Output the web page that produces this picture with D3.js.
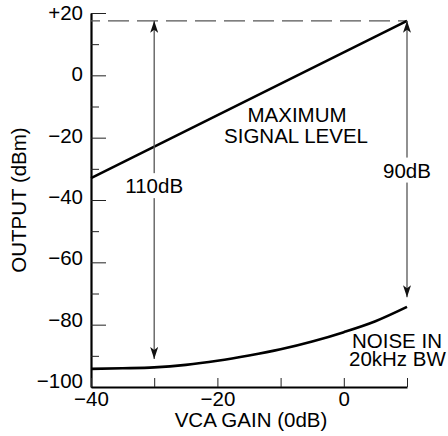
<!DOCTYPE html>
<html>
<head>
<meta charset="utf-8">
<script src="https://cdn.jsdelivr.net/npm/d3@7"></script>
<style>
  body { margin: 0; background: #fff; }
  svg { display: block; }
  text { font-family: "Liberation Sans", Arial, sans-serif; fill: #000; }
</style>
</head>
<body>
<div id="svg-container"></div>
<script>
// data
const gain = [-40, -35, -30, -25, -20, -15, -10, -5, 0, 5, 10];
const noise = [-94.2, -94.0, -93.7, -92.9, -91.6, -89.9, -87.9, -85.4, -82.4, -78.9, -74.3];
const maxGain = [-40, 10];
const maxSignal = [-33, 17.5];
const yMajor = [20, 0, -20, -40, -60, -80, -100];
const yMinor = [10, -10, -30, -50, -70, -90];
const xTicks = [-40, -30, -20, -10, 0, 10];
const xLabels = [-40, -20, 0];
const arrows = [
  { x: -30, top: 17.5, bottom: -91, label: "110dB", labelY: -35.5 },
  { x: 10, top: 17.5, bottom: -71.2, label: "90dB", labelY: -30.5 }
];

const width = 448, height = 436;
const svg = d3.select("#svg-container").append("svg")
  .attr("width", width).attr("height", height);

// scales
const xScale = d3.scaleLinear().domain([-40, 10]).range([91, 407]);
const yScale = d3.scaleLinear().domain([-100, 20]).range([387, 13]);
const fmt = (d) => (d > 0 ? "+" + d : d < 0 ? "\u2212" + Math.abs(d) : "0");
const FS = 20.5;

// y axis
const yAxis = d3.axisLeft(yScale).tickValues(yMajor).tickSize(-15).tickSizeOuter(0)
  .tickPadding(8).tickFormat(fmt);
const gy = svg.append("g").attr("transform", `translate(${xScale(-40)},0)`).call(yAxis);
// labels in the original sit a little higher toward the bottom
gy.selectAll(".tick text").attr("y", (d) => -(20 - d) / 120 * 6);
svg.append("g").attr("transform", `translate(${xScale(-40)},0)`)
  .call(d3.axisLeft(yScale).tickValues(yMinor).tickSize(-8).tickSizeOuter(0).tickFormat(""))
  .select(".domain").remove();

// x axis
const xAxis = d3.axisBottom(xScale).tickValues(xTicks).tickSize(-9).tickSizeOuter(0)
  .tickPadding(4).tickFormat((d) => (xLabels.includes(d) ? fmt(d) : ""));
const gx = svg.append("g").attr("transform", `translate(0,${yScale(-100)})`).call(xAxis);

[gx, gy].forEach((g) => {
  g.select(".domain").attr("stroke-width", 2.2);
  g.selectAll(".tick text").style("font-size", FS + "px");
});
svg.selectAll(".tick line").attr("stroke", "#222");

// dashed max level
svg.append("line")
  .attr("x1", xScale(-40)).attr("x2", xScale(10))
  .attr("y1", yScale(17.5)).attr("y2", yScale(17.5))
  .attr("stroke", "#555").attr("stroke-width", 1.2)
  .attr("stroke-dasharray", "21,8").attr("stroke-dashoffset", 12);

// curves
const line = d3.line().x((d) => xScale(d[0])).y((d) => yScale(d[1]));
svg.append("path")
  .attr("d", line(d3.zip(maxGain, maxSignal)))
  .attr("fill", "none").attr("stroke", "#000").attr("stroke-width", 2.6);
svg.append("path")
  .attr("d", line.curve(d3.curveMonotoneX)(d3.zip(gain, noise)))
  .attr("fill", "none").attr("stroke", "#000").attr("stroke-width", 2.6);

// arrows
svg.append("defs").append("marker")
  .attr("id", "head").attr("viewBox", "0 0 12 8")
  .attr("refX", 12).attr("refY", 4).attr("markerWidth", 12).attr("markerHeight", 8)
  .attr("markerUnits", "userSpaceOnUse").attr("orient", "auto-start-reverse")
  .append("path").attr("d", "M0,0 L12,4 L0,8 L3,4 Z").attr("fill", "#111");

arrows.forEach((a) => {
  svg.append("line")
    .attr("x1", xScale(a.x)).attr("x2", xScale(a.x))
    .attr("y1", yScale(a.top)).attr("y2", yScale(a.bottom))
    .attr("stroke", "#555").attr("stroke-width", 1.3)
    .attr("marker-start", "url(#head)").attr("marker-end", "url(#head)");
  const t = svg.append("text")
    .attr("x", xScale(a.x)).attr("y", yScale(a.labelY))
    .attr("text-anchor", "middle").attr("dy", "0.35em")
    .style("font-size", FS + "px").text(a.label);
  const b = t.node().getBBox();
  svg.insert("rect", () => t.node())
    .attr("x", b.x).attr("y", b.y - 1).attr("width", b.width).attr("height", b.height + 2)
    .attr("fill", "#fff");
});

// annotations
const notes = [
  { x: 297, y: 122, anchor: "middle", text: "MAXIMUM" },
  { x: 296, y: 143, anchor: "middle", text: "SIGNAL LEVEL" },
  { x: 352, y: 348, anchor: "start", text: "NOISE IN" },
  { x: 349, y: 366, anchor: "start", text: "20kHz BW" }
];
svg.selectAll(".note").data(notes).enter().append("text")
  .attr("class", "note")
  .attr("x", (d) => d.x).attr("y", (d) => d.y)
  .attr("text-anchor", (d) => d.anchor)
  .style("font-size", FS + "px")
  .text((d) => d.text);

// axis titles
svg.append("text")
  .attr("x", 251).attr("y", 427)
  .attr("text-anchor", "middle").style("font-size", FS + "px")
  .text("VCA GAIN (0dB)");
svg.append("text")
  .attr("transform", `translate(26,${yScale(-40)}) rotate(-90)`)
  .attr("text-anchor", "middle").style("font-size", FS + "px")
  .text("OUTPUT (dBm)");
</script>
</body>
</html>
